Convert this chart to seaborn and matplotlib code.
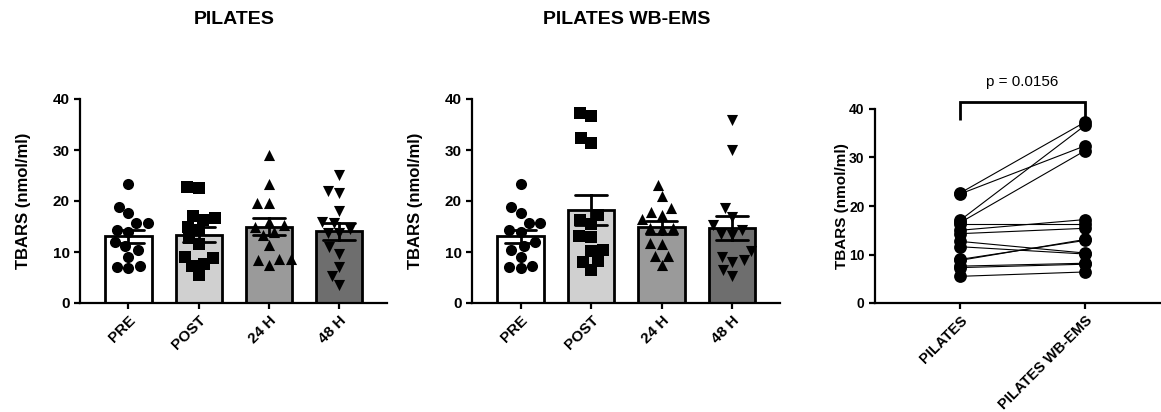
import matplotlib
matplotlib.use("Agg")
import matplotlib.pyplot as plt
import seaborn as sns
import pandas as pd
import numpy as np

# ---------------- data ----------------
timepoints = ["PRE", "POST", "24 H", "48 H"]
markers = ["o", "s", "^", "v"]
bar_colors = ["#ffffff", "#d0d0d0", "#9a9a9a", "#6e6e6e"]

pil_pre = [23.3, 18.8, 17.6, 15.6, 15.6, 14.3, 14.0, 12.0, 11.2, 10.4, 9.1, 7.3, 7.1, 6.8]
pil_post = [22.7, 22.5, 17.1, 16.6, 16.3, 15.0, 14.3, 12.7, 11.6, 9.0, 8.8, 7.6, 7.3, 5.5]
pil_24h = [29.0, 23.3, 19.7, 19.7, 15.9, 15.3, 14.9, 14.0, 13.3, 11.4, 8.7, 8.6, 8.4, 7.5]
pil_48h = [25.1, 22.0, 21.5, 18.1, 15.9, 15.7, 14.6, 13.8, 13.8, 10.9, 9.7, 7.1, 5.2, 3.5]

ems_pre = [23.3, 18.8, 17.6, 15.6, 15.6, 14.3, 14.0, 12.0, 11.2, 10.4, 9.1, 7.3, 7.1, 6.8]
ems_post = [37.3, 36.6, 32.4, 31.4, 17.2, 16.3, 15.4, 13.1, 12.9, 10.3, 10.1, 8.2, 8.0, 6.4]
ems_24h = [23.1, 21.0, 18.6, 17.9, 17.3, 16.4, 14.6, 14.8, 14.8, 11.7, 11.5, 9.2, 9.2, 7.4]
ems_48h = [35.9, 30.0, 18.6, 16.9, 15.3, 14.3, 13.6, 13.3, 10.1, 9.1, 8.4, 8.1, 6.5, 5.2]

groups = ["PILATES", "PILATES WB-EMS"]
paired_pilates = [22.7, 22.5, 17.1, 16.6, 16.3, 15.0, 14.3, 12.7, 11.6, 9.0, 8.8, 7.6, 7.3, 5.5]
paired_wbems = [37.3, 32.4, 36.6, 31.4, 16.3, 17.2, 15.4, 10.3, 10.1, 12.9, 13.1, 8.2, 8.0, 6.4]
p_text = "p = 0.0156"

ylabel = "TBARS (nmol/ml)"

# ---------------- style ----------------
sns.set_theme(style="ticks")
plt.rcParams["font.family"] = ["Liberation Sans", "DejaVu Sans"]
plt.rcParams["font.weight"] = "bold"
plt.rcParams["text.color"] = "black"
plt.rcParams["axes.labelcolor"] = "black"
plt.rcParams["xtick.color"] = "black"
plt.rcParams["ytick.color"] = "black"

W, H = 1161, 412
fig = plt.figure(figsize=(W / 100, H / 100), dpi=100)


def px_axes(left, top, right, bottom):
    return fig.add_axes([left / W, (H - bottom) / H, (right - left) / W, (bottom - top) / H])


def style_axis(ax, tick_fs):
    for s in ["top", "right"]:
        ax.spines[s].set_visible(False)
    for s in ["left", "bottom"]:
        ax.spines[s].set_linewidth(1.6)
        ax.spines[s].set_color("black")
    ax.tick_params(axis="both", width=1.6, length=4, color="black",
                   labelsize=tick_fs, labelcolor="black", direction="out")
    for lab in ax.get_yticklabels() + ax.get_xticklabels():
        lab.set_fontweight("bold")
        lab.set_color("black")


def bar_panel(ax, series, label_x):
    df = pd.DataFrame({
        "time": np.repeat(timepoints, [len(s) for s in series]),
        "val": np.concatenate(series),
    })
    sns.barplot(data=df, x="time", y="val", order=timepoints, hue="time",
                hue_order=timepoints, palette=bar_colors, legend=False,
                errorbar="se", capsize=0.45, width=0.66,
                edgecolor="black", linewidth=2.0,
                err_kws={"color": "black", "linewidth": 2.0, "zorder": 5}, ax=ax)
    for t, m, s in zip(timepoints, markers, series):
        sub = pd.DataFrame({"time": [t] * len(s), "val": s})
        sns.swarmplot(data=sub, x="time", y="val", order=timepoints, marker=m,
                      color="black", size=8, linewidth=0, ax=ax, zorder=4)
    ax.set_ylim(0, 40)
    ax.set_yticks([0, 10, 20, 30, 40])
    ax.set_xlim(-0.69, 3.68)
    ax.set_xlabel("")
    ax.set_ylabel(ylabel, fontsize=12, fontweight="bold", color="black")
    ax.yaxis.set_label_coords(label_x, 0.5)
    style_axis(ax, 11)
    plt.setp(ax.get_xticklabels(), rotation=45, ha="right", rotation_mode="anchor")


ax1 = px_axes(80, 99, 387, 303)
bar_panel(ax1, [pil_pre, pil_post, pil_24h, pil_48h], -0.16)
ax2 = px_axes(472, 99, 780, 303)
bar_panel(ax2, [ems_pre, ems_post, ems_24h, ems_48h], -0.16)

fig.text(234 / W, 1 - 20 / H, "PILATES", ha="center", va="center",
         fontsize=14, fontweight="bold", color="black")
fig.text(627 / W, 1 - 20 / H, "PILATES WB-EMS", ha="center", va="center",
         fontsize=14, fontweight="bold", color="black")

# ---------------- paired panel ----------------
ax3 = px_axes(875, 109, 1161, 303)
n = len(paired_pilates)
dfp = pd.DataFrame({
    "subject": list(range(n)) * 2,
    "group": [groups[0]] * n + [groups[1]] * n,
    "val": paired_pilates + paired_wbems,
})
sns.lineplot(data=dfp, x="group", y="val", units="subject", estimator=None,
             color="black", linewidth=0.8, ax=ax3, zorder=2)
sns.scatterplot(data=dfp, x="group", y="val", color="black", s=85,
                linewidth=0, ax=ax3, zorder=3, clip_on=False)
ax3.set_ylim(0, 40)
ax3.set_yticks([0, 10, 20, 30, 40])
ax3.set_xticks([0, 1])
ax3.set_xticklabels(groups)
ax3.set_xlim(-0.685, 1.61)
ax3.set_xlabel("")
ax3.set_ylabel(ylabel, fontsize=11, fontweight="bold", color="black")
ax3.yaxis.set_label_coords(-0.092, 0.5)
style_axis(ax3, 10)
plt.setp(ax3.get_xticklabels(), rotation=45, ha="right", rotation_mode="anchor",
         fontsize=10.5)

ax3.plot([0, 0, 1, 1], [37.7, 41.4, 41.4, 37.8], color="black", lw=2.0,
         clip_on=False, solid_capstyle="butt", solid_joinstyle="miter")
ax3.text(0.5, 45.6, p_text, ha="center", va="center", fontsize=11,
         fontweight="normal", color="black", clip_on=False)

fig.savefig("out.png", dpi=100)
